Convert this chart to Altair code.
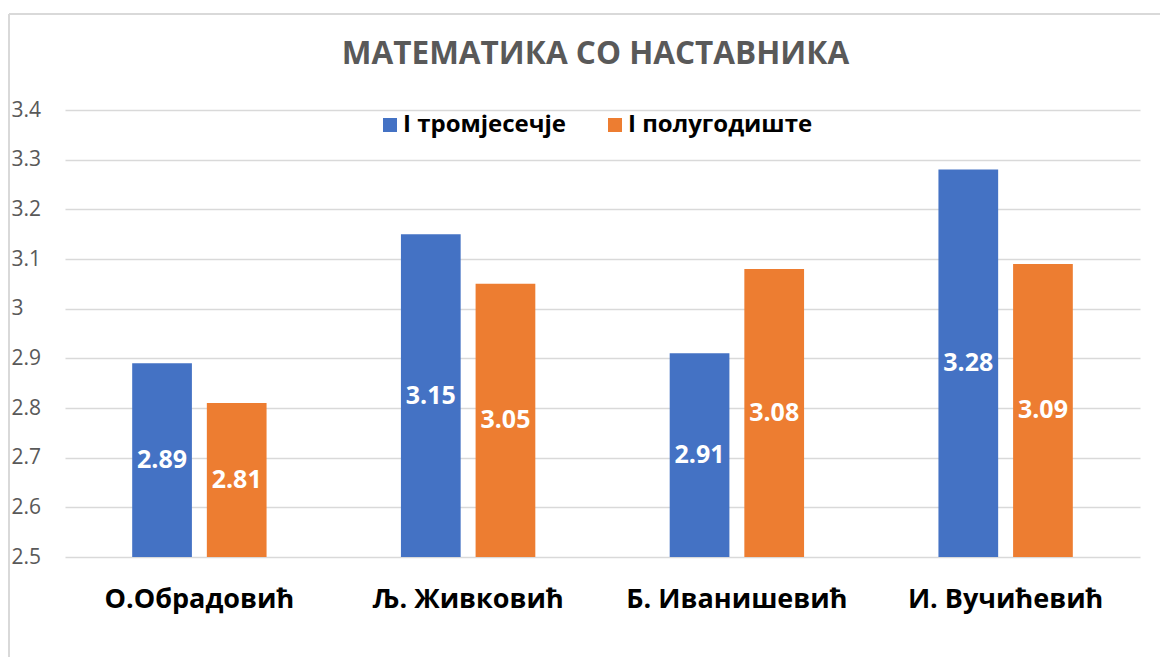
import altair as alt
import pandas as pd

teachers = ["О.Обрадовић", "Љ. Живковић", "Б. Иванишевић", "И. Вучићевић"]
series = ["I тромјесечје", "I полугодиште"]
q1_values = [2.89, 3.15, 2.91, 3.28]
h1_values = [2.81, 3.05, 3.08, 3.09]
colors = ["#4472C4", "#ED7D31"]
y_ticks = [2.5, 2.6, 2.7, 2.8, 2.9, 3.0, 3.1, 3.2, 3.3, 3.4]
base_value = 2.5

rows = []
for t, a, b in zip(teachers, q1_values, h1_values):
    rows.append({"teacher": t, "series": series[0], "value": a})
    rows.append({"teacher": t, "series": series[1], "value": b})
df = pd.DataFrame(rows)

FONT = "Open Sans"
W, H = 1075, 447

x_enc = alt.X("teacher:N", sort=teachers, title=None,
              scale=alt.Scale(paddingInner=0.5, paddingOuter=0.25),
              axis=alt.Axis(labelAngle=0, labelFontSize=27, labelFontWeight="bold",
                            labelColor="#000000", labelFont=FONT, ticks=False,
                            domain=False, labelPadding=29, labelLimit=0))
xo_enc = alt.XOffset("series:N", sort=series,
                     scale=alt.Scale(paddingInner=0.2, paddingOuter=0))
y_scale = alt.Scale(domain=[2.5, 3.4], zero=False, nice=False)

bars = alt.Chart(df).mark_bar().encode(
    x=x_enc,
    xOffset=xo_enc,
    y=alt.Y("value:Q", scale=y_scale, title=None,
            axis=alt.Axis(values=y_ticks, format="~g", labelFontSize=21,
                          labelColor="#595959", labelFont=FONT, ticks=False,
                          domain=False, labelAlign="left", labelPadding=54,
                          gridColor="#d9d9d9", gridWidth=1.5)),
    y2=alt.datum(base_value),
    color=alt.Color("series:N", sort=series,
                    scale=alt.Scale(domain=series, range=colors),
                    legend=alt.Legend(title=None, orient="none", direction="horizontal",
                                      legendX=313, legendY=3, symbolType="square",
                                      symbolSize=196, symbolStrokeWidth=0,
                                      labelFontSize=24, labelFontWeight="bold",
                                      labelColor="#000000", labelFont=FONT,
                                      columnPadding=36, labelOffset=1, labelLimit=0)),
)

labels = alt.Chart(df).transform_calculate(
    mid=f"(datum.value + {base_value}) / 2"
).mark_text(color="white", fontSize=25, fontWeight="bold", font=FONT,
            baseline="middle", align="center").encode(
    x=alt.X("teacher:N", sort=teachers),
    xOffset=alt.XOffset("series:N", sort=series),
    y=alt.Y("mid:Q", scale=y_scale),
    text=alt.Text("value:Q", format=".2f"),
)

frame_df = pd.DataFrame({"k": [0]})
frame_left = alt.Chart(frame_df).mark_rule(color="#d9d9d9", strokeWidth=2).encode(
    x=alt.value(-56), y=alt.value(-96), y2=alt.value(H + 110))
frame_top = alt.Chart(frame_df).mark_rule(color="#d9d9d9", strokeWidth=2).encode(
    x=alt.value(-56), x2=alt.value(W + 30), y=alt.value(-96))

chart = alt.layer(frame_left, frame_top, bars, labels).properties(
    width=W, height=H,
    title=alt.TitleParams("МАТЕМАТИКА СО НАСТАВНИКА", fontSize=31.5, fontWeight="bold",
                          color="#595959", font=FONT, anchor="middle", frame="group",
                          baseline="bottom", offset=-89, dx=-7),
    autosize=alt.AutoSizeParams(type="none"),
    padding={"left": 57, "top": 102, "right": 20, "bottom": 100},
).configure_view(stroke=None)

chart.save("out.html", embed_options={"renderer": "svg", "actions": False})
